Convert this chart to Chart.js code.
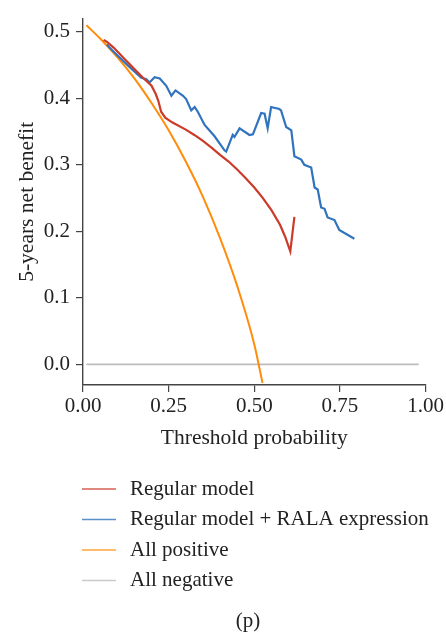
<!DOCTYPE html>
<html>
<head>
<meta charset="utf-8">
<script src="https://cdn.jsdelivr.net/npm/chart.js@4.4.1/dist/chart.umd.min.js"></script>
<style>
  html, body { margin: 0; padding: 0; background: #fff; }
</style>
</head>
<body>
<canvas id="dca" width="446" height="633"></canvas>
<script>
// decision curve, 5-year net benefit vs threshold probability
const seriesNames = ['Regular model', 'Regular model + RALA expression', 'All positive', 'All negative'];
const seriesColors = ['#cc3a28', '#3174bd', '#ff8c0a', '#bdbdbd'];

const regularT = [0.060, 0.070, 0.090, 0.120, 0.150, 0.175, 0.200, 0.212, 0.220, 0.228, 0.240, 0.260,
                  0.300, 0.325, 0.350, 0.375, 0.400, 0.425, 0.450, 0.475, 0.500, 0.525, 0.550, 0.575,
                  0.590, 0.605, 0.617];
const regularNB = [0.488, 0.485, 0.476, 0.460, 0.444, 0.431, 0.419, 0.407, 0.396, 0.380, 0.371, 0.364,
                   0.353, 0.345, 0.336, 0.326, 0.315, 0.305, 0.293, 0.280, 0.266, 0.250, 0.232, 0.210,
                   0.192, 0.170, 0.222];

const ralaT = [0.070, 0.078, 0.100, 0.130, 0.170, 0.185, 0.194, 0.209, 0.224, 0.243, 0.258, 0.270,
               0.292, 0.301, 0.316, 0.326, 0.335, 0.355, 0.384, 0.413, 0.418, 0.437, 0.442, 0.457,
               0.486, 0.496, 0.520, 0.530, 0.539, 0.549, 0.573, 0.578, 0.593, 0.608, 0.617, 0.637,
               0.646, 0.666, 0.676, 0.685, 0.695, 0.705, 0.714, 0.734, 0.748, 0.792];
const ralaNB = [0.481, 0.476, 0.465, 0.450, 0.431, 0.429, 0.424, 0.432, 0.430, 0.419, 0.404, 0.412,
                0.404, 0.399, 0.382, 0.387, 0.380, 0.360, 0.343, 0.322, 0.320, 0.345, 0.342, 0.355,
                0.345, 0.346, 0.378, 0.377, 0.355, 0.387, 0.384, 0.382, 0.357, 0.352, 0.313, 0.308,
                0.300, 0.296, 0.266, 0.263, 0.236, 0.234, 0.221, 0.217, 0.202, 0.189];

const allPosT = [0.010, 0.050, 0.100, 0.150, 0.200, 0.250, 0.300, 0.350, 0.400, 0.450, 0.500, 0.524];
const allPosNB = [0.510, 0.490, 0.462, 0.430, 0.393, 0.352, 0.305, 0.252, 0.190, 0.118, 0.030, -0.028];

const allNegT = [0.010, 0.980];
const allNegNB = [0.000, 0.000];

const xTicks = [0.00, 0.25, 0.50, 0.75, 1.00];
const yTicks = [0.0, 0.1, 0.2, 0.3, 0.4, 0.5];

const caption = '(p)';

function pts(xs, ys) {
  return xs.map((x, i) => ({ x: x, y: ys[i] }));
}

Chart.defaults.font.family = "'Liberation Serif', 'DejaVu Serif', serif";
Chart.defaults.color = '#222';

// legend rows and caption under the plot
const bottomLegend = {
  id: 'bottomLegend',
  afterDraw(chart) {
    const ctx = chart.ctx;
    ctx.save();
    ctx.font = "21px 'Liberation Serif', serif";
    ctx.textBaseline = 'middle';
    ctx.textAlign = 'left';
    chart.data.datasets.forEach((ds, i) => {
      const y = 489 + i * 30.5;
      ctx.strokeStyle = ds.borderColor;
      ctx.globalAlpha = 0.8;
      ctx.lineWidth = 1.5;
      ctx.beginPath();
      ctx.moveTo(82, y);
      ctx.lineTo(116, y);
      ctx.stroke();
      ctx.globalAlpha = 1;
      ctx.fillStyle = '#222';
      ctx.fillText(ds.label, 130, y);
    });
    ctx.textAlign = 'center';
    ctx.fillText(caption, 248, 621);
    ctx.restore();
  }
};

new Chart(document.getElementById('dca'), {
  type: 'line',
  data: {
    datasets: [
      { label: seriesNames[0], data: pts(regularT, regularNB), borderColor: seriesColors[0], borderWidth: 2.2, tension: 0 },
      { label: seriesNames[1], data: pts(ralaT, ralaNB), borderColor: seriesColors[1], borderWidth: 2.2, tension: 0 },
      { label: seriesNames[2], data: pts(allPosT, allPosNB), borderColor: seriesColors[2], borderWidth: 2, cubicInterpolationMode: 'monotone' },
      { label: seriesNames[3], data: pts(allNegT, allNegNB), borderColor: seriesColors[3], borderWidth: 1.6, tension: 0 }
    ]
  },
  options: {
    responsive: false,
    devicePixelRatio: 1,
    animation: false,
    elements: { point: { radius: 0 } },
    layout: { padding: { left: 0, top: 13, right: 20, bottom: 182 } },
    plugins: {
      legend: { display: false },
      tooltip: { enabled: false }
    },
    scales: {
      x: {
        type: 'linear',
        min: 0,
        max: 1,
        afterBuildTicks: s => { s.ticks = xTicks.map(v => ({ value: v })); },
        afterFit: s => { s.height = 66; },
        grid: { display: true, drawOnChartArea: false, drawTicks: true, tickLength: 7, color: '#444', lineWidth: 1.2 },
        border: { display: true, color: '#444', width: 1.4 },
        ticks: { font: { size: 21 }, padding: 2, maxRotation: 0, callback: v => v.toFixed(2) },
        title: { display: true, text: 'Threshold probability', font: { size: 21.5 }, padding: 0 }
      },
      y: {
        type: 'linear',
        min: -0.031,
        max: 0.52,
        afterBuildTicks: s => { s.ticks = yTicks.map(v => ({ value: v })); },
        afterFit: s => { s.width = 83; },
        grid: { display: true, drawOnChartArea: false, drawTicks: true, tickLength: 7, color: '#444', lineWidth: 1.2 },
        border: { display: true, color: '#444', width: 1.4 },
        ticks: { font: { size: 21 }, padding: 6, callback: v => v.toFixed(1) },
        title: { display: true, text: '5-years net benefit', font: { size: 21.5 }, padding: { top: 14, bottom: 0 } }
      }
    }
  },
  plugins: [bottomLegend]
});
</script>
</body>
</html>
